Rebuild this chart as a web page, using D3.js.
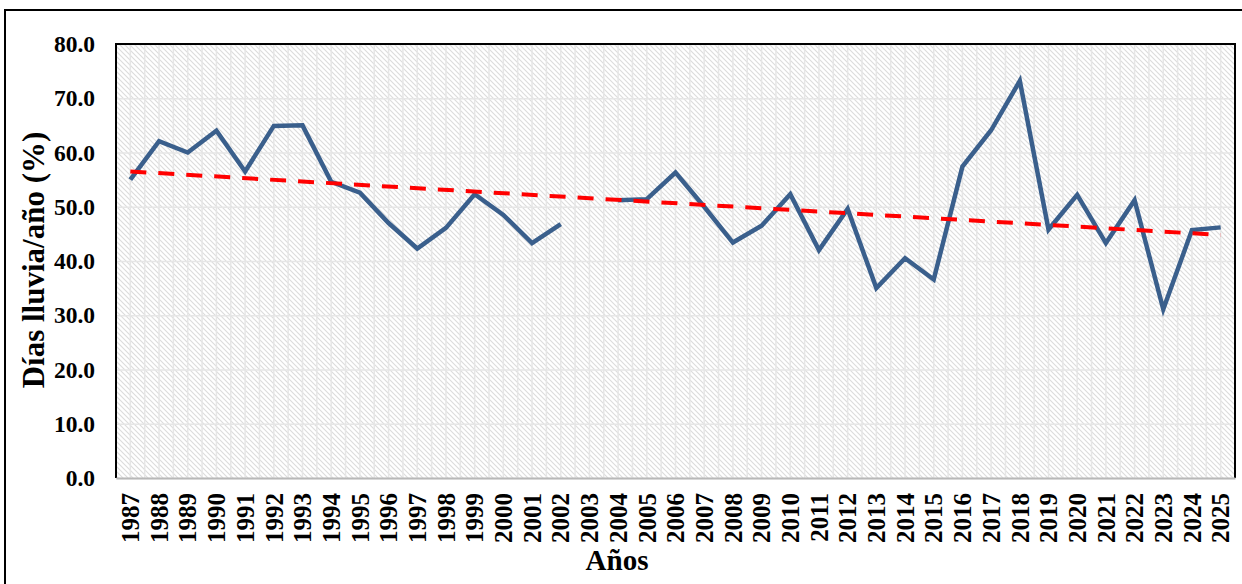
<!DOCTYPE html>
<html>
<head>
<meta charset="utf-8">
<script src="https://cdn.jsdelivr.net/npm/d3@7"></script>
<style>
    body { margin: 0; background: #ffffff; }
    svg text { font-family: "Liberation Serif", "Times New Roman", serif; font-weight: bold; fill: #000000; }
</style>
</head>
<body>
<div class="chart-rain"></div>
<script>
// data
const years = ['1987', '1988', '1989', '1990', '1991', '1992', '1993', '1994', '1995', '1996',
    '1997', '1998', '1999', '2000', '2001', '2002', '2003', '2004', '2005', '2006',
    '2007', '2008', '2009', '2010', '2011', '2012', '2013', '2014', '2015', '2016',
    '2017', '2018', '2019', '2020', '2021', '2022', '2023', '2024', '2025'];
const rainDays = [55.0, 62.1, 60.0, 64.0, 56.5, 64.9, 65.0, 54.6, 52.6, 47.0,
    42.3, 46.1, 52.3, 48.5, 43.3, 46.8, null, 51.2, 51.4, 56.3,
    50.0, 43.4, 46.5, 52.3, 42.0, 49.6, 35.0, 40.5, 36.6, 57.4,
    64.1, 73.2, 45.8, 52.2, 43.3, 51.2, 31.1, 45.7, 46.2];
const trendYears = ['1987', '2025'];
const trendValues = [56.5, 44.8];
const yTicks = [0, 10, 20, 30, 40, 50, 60, 70, 80];

const width = 1242, height = 584;
const plot = {left: 116, right: 1235, top: 44, bottom: 478};

let svg = d3.select('.chart-rain').append('svg')
    .attr('width', width)
    .attr('height', height);

// outer frame (cut off at right and bottom in the picture)
svg.append('rect')
    .attr('x', 5).attr('y', 10)
    .attr('width', 1260).attr('height', 600)
    .attr('fill', '#ffffff')
    .attr('stroke', '#000000')
    .attr('stroke-width', 2);

// hatch fill for plot area
let defs = svg.append('defs');
let pat = defs.append('pattern')
    .attr('id', 'hatch')
    .attr('patternUnits', 'userSpaceOnUse')
    .attr('width', 5)
    .attr('height', 5);
pat.append('rect').attr('width', 5).attr('height', 5).attr('fill', '#ffffff');
pat.append('path')
    .attr('d', 'M-1,-1 L6,6 M-1,4 L1,6 M4,-1 L6,1')
    .attr('stroke', '#dcdcdc')
    .attr('stroke-width', 1.1);

let x = d3.scaleBand().domain(years).range([plot.left, plot.right]);
let y = d3.scaleLinear().domain([0, 80]).range([plot.bottom, plot.top]);
let cx = function(d) { return x(d) + x.bandwidth() / 2; };

let chartLayer = svg.append('g').classed('chartLayer', true);

chartLayer.append('rect')
    .attr('x', plot.left).attr('y', plot.top)
    .attr('width', plot.right - plot.left)
    .attr('height', plot.bottom - plot.top)
    .attr('fill', 'url(#hatch)');

// vertical gridlines at category edges and centres
let vLines = [];
years.forEach(function(d) { vLines.push(x(d)); vLines.push(cx(d)); });
chartLayer.selectAll('.vgrid')
    .data(vLines.slice(1))
    .enter().append('line')
    .attr('class', 'vgrid')
    .attr('x1', function(d) { return d; })
    .attr('x2', function(d) { return d; })
    .attr('y1', plot.top)
    .attr('y2', plot.bottom)
    .attr('stroke', '#e6e6e6')
    .attr('stroke-width', 1.5);

// y axis
let yAxisGroup = chartLayer.append('g')
    .attr('transform', 'translate(' + plot.left + ',0)')
    .call(d3.axisLeft(y).tickValues(yTicks).tickFormat(d3.format('.1f')).tickSize(0).tickPadding(21));
yAxisGroup.select('.domain').remove();
yAxisGroup.selectAll('text')
    .attr('font-size', 23.5)
    .attr('font-family', null);
yAxisGroup.selectAll('.tick').append('line')
    .attr('x1', 0)
    .attr('x2', plot.right - plot.left)
    .attr('stroke', '#e6e6e6')
    .attr('stroke-width', 1.5);

// plot area border
chartLayer.append('path')
    .attr('d', 'M' + plot.left + ',' + plot.bottom + 'V' + plot.top + 'H' + plot.right + 'V' + plot.bottom)
    .attr('fill', 'none')
    .attr('stroke', '#000000')
    .attr('stroke-width', 2);

// x axis
let xAxisGroup = chartLayer.append('g')
    .attr('transform', 'translate(0,' + plot.bottom + ')')
    .call(d3.axisBottom(x).tickSize(0).tickPadding(0));
xAxisGroup.select('.domain')
    .attr('stroke', '#b8b8b8')
    .attr('stroke-width', 2);
xAxisGroup.selectAll('text')
    .attr('font-size', 25)
    .attr('font-family', null)
    .attr('text-anchor', 'end')
    .attr('transform', 'rotate(-90)')
    .attr('x', -15)
    .attr('y', 0)
    .attr('dy', '0.35em');

// series line
let line = d3.line()
    .defined(function(d) { return d[1] !== null; })
    .x(function(d) { return cx(d[0]); })
    .y(function(d) { return y(d[1]); });

chartLayer.append('path')
    .datum(years.map(function(d, i) { return [d, rainDays[i]]; }))
    .attr('fill', 'none')
    .attr('stroke', '#3a5f8c')
    .attr('stroke-width', 4.5)
    .attr('stroke-linejoin', 'miter')
    .attr('d', line);

// trend line
chartLayer.append('path')
    .datum(trendYears.map(function(d, i) { return [d, trendValues[i]]; }))
    .attr('fill', 'none')
    .attr('stroke', '#ff0000')
    .attr('stroke-width', 4)
    .attr('stroke-dasharray', '16,12')
    .attr('d', line);

// axis titles
svg.append('text')
    .text('Años')
    .attr('x', 617)
    .attr('y', 570)
    .attr('text-anchor', 'middle')
    .attr('font-size', 29);

svg.append('text')
    .text('Días lluvia/año (%)')
    .attr('transform', 'translate(44,260) rotate(-90)')
    .attr('text-anchor', 'middle')
    .attr('font-size', 31);
</script>
</body>
</html>
